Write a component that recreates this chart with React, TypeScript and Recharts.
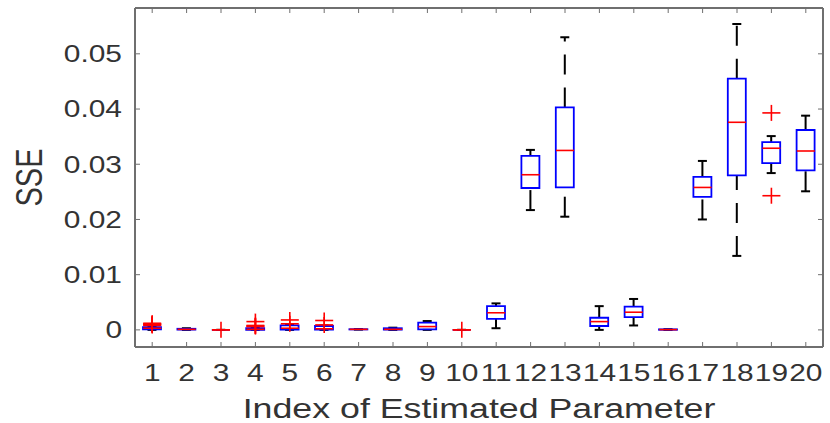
import React from "react";
import { ComposedChart, Bar, Scatter, XAxis, YAxis } from "recharts";

// Box statistics per estimated parameter (SSE)
const categories = [
  "1", "2", "3", "4", "5", "6", "7", "8", "9", "10",
  "11", "12", "13", "14", "15", "16", "17", "18", "19", "20",
];
const whiskerLow = [
  0, 0, 0, 0, 0, 0, 0.00005, 0, 0, 0,
  0.0003, 0.0217, 0.0205, 0, 0.0008, 0, 0.02, 0.0134, 0.0284, 0.0251,
];
const q1 = [
  0.0001, 0.00005, 0, 0, 0.00005, 0.00005, 0.00008, 0.00005, 0.0001, 0,
  0.002, 0.0257, 0.0258, 0.0007, 0.0023, 0.00002, 0.0241, 0.028, 0.0302, 0.0289,
];
const median = [
  0.0003, 0.0001, 0, 0.0001, 0.0003, 0.0002, 0.0001, 0.0001, 0.0006, 0,
  0.0031, 0.0281, 0.0325, 0.0015, 0.0032, 0.00005, 0.0258, 0.0376, 0.0329, 0.0324,
];
const q3 = [
  0.0005, 0.0002, 0, 0.0003, 0.0008, 0.0007, 0.00012, 0.0003, 0.0013, 0,
  0.0043, 0.0315, 0.0403, 0.0022, 0.0042, 0.0001, 0.0277, 0.0455, 0.034, 0.0362,
];
const whiskerHigh = [
  0.0007, 0.0003, 0, 0.0005, 0.0009, 0.0008, 0.00015, 0.0004, 0.0016, 0,
  0.0048, 0.0326, 0.053, 0.0043, 0.0056, 0.00012, 0.0306, 0.0554, 0.0351, 0.0388,
];
const outliers: number[][] = [
  [0.0008, 0.0009, 0.001, 0.0011, 0.0012],
  [],
  [0.00002],
  [0.0006, 0.0007, 0.0008, 0.0015],
  [0.0011, 0.0018],
  [0.0009, 0.0017],
  [],
  [],
  [],
  [0.00002],
  [], [], [], [], [], [], [], [],
  [0.0243, 0.0393],
  [],
];
const yTicks = [0, 0.01, 0.02, 0.03, 0.04, 0.05];

const OUTLIER_SLOTS = [0, 1, 2, 3, 4];

const rows = categories.map((name, i) => {
  const row: Record<string, any> = {
    name,
    lowW: [whiskerLow[i], q1[i]],
    highW: [q3[i], whiskerHigh[i]],
    box: [q1[i], q3[i]],
    median: median[i],
  };
  OUTLIER_SLOTS.forEach((k) => {
    row[`o${k}`] = outliers[i][k] ?? null;
  });
  return row;
});

const BLUE = "#0000ff";
const RED = "#ff0000";
const FRAME = "#6f6f6f";
const TEXT = "#333";
const FONT = "'Liberation Sans', Arial, sans-serif";
const STRETCH = 1.3;
const BOX_W = 18;

const BoxShape = (p: any) => {
  const top = Math.min(p.y, p.y + p.height);
  const h = Math.abs(p.height);
  return (
    <path
      d={`M${p.x},${top}h${p.width}v${h}h${-p.width}Z`}
      fill="none"
      stroke={BLUE}
      strokeWidth={1.8}
    />
  );
};

// whiskers are stroked bottom-up so the dash pattern starts at the lower end
const whisker = (upper: boolean) => (p: any) => {
  const cx = p.x + p.width / 2;
  const top = Math.min(p.y, p.y + p.height);
  const bottom = Math.max(p.y, p.y + p.height);
  const capY = upper ? top : bottom;
  return (
    <g stroke="#000" strokeWidth={2}>
      <line x1={cx} y1={bottom} x2={cx} y2={top} strokeDasharray="20 13" />
      <line x1={cx - 4.5} y1={capY} x2={cx + 4.5} y2={capY} />
    </g>
  );
};

const MedianShape = (p: any) => (
  <line x1={p.cx - BOX_W / 2} x2={p.cx + BOX_W / 2} y1={p.cy} y2={p.cy} stroke={RED} strokeWidth={1.6} />
);

const plus = (key: string) => (p: any) => {
  if (p.payload?.[key] == null || !Number.isFinite(p.cy)) return <g />;
  return (
    <g stroke={RED} strokeWidth={1.6}>
      <line x1={p.cx - 9} x2={p.cx + 9} y1={p.cy} y2={p.cy} />
      <line x1={p.cx} x2={p.cx} y1={p.cy - 8} y2={p.cy + 8} />
    </g>
  );
};

const BottomTick = (p: any) => (
  <g>
    <line x1={p.x} x2={p.x} y1={p.y} y2={p.y - 5} stroke={FRAME} />
    <text
      transform={`translate(${p.x},${p.y + 34}) scale(${STRETCH},1)`}
      textAnchor="middle"
      fontFamily={FONT}
      fontSize={23}
      fill={TEXT}
    >
      {p.payload.value}
    </text>
  </g>
);

const TopTick = (p: any) => (
  <line x1={p.x} x2={p.x} y1={p.y} y2={p.y + 5} stroke={FRAME} />
);

const LeftTick = (p: any) => (
  <g>
    <line x1={p.x} x2={p.x + 5} y1={p.y} y2={p.y} stroke={FRAME} />
    <text
      transform={`translate(${p.x - 13},${p.y}) scale(${STRETCH},1)`}
      textAnchor="end"
      dy="0.36em"
      fontFamily={FONT}
      fontSize={23}
      fill={TEXT}
    >
      {p.payload.value === 0 ? "0" : Number(p.payload.value).toFixed(2)}
    </text>
  </g>
);

const RightTick = (p: any) => (
  <line x1={p.x - 5} x2={p.x} y1={p.y} y2={p.y} stroke={FRAME} />
);

const XTitle = (p: any) => {
  const vb = p.viewBox ?? { x: 135, y: 347, width: 688 };
  return (
    <text
      transform={`translate(${vb.x + vb.width / 2},${vb.y + 71}) scale(${STRETCH},1)`}
      textAnchor="middle"
      fontFamily={FONT}
      fontSize={27.5}
      fill={TEXT}
    >
      Index of Estimated Parameter
    </text>
  );
};

const YTitle = (p: any) => {
  const vb = p.viewBox ?? { x: 0, y: 8, height: 339 };
  return (
    <text
      transform={`translate(${vb.x + 28.5},${vb.y + vb.height / 2}) scale(${STRETCH},1) rotate(-90)`}
      textAnchor="middle"
      dy="0.36em"
      fontFamily={FONT}
      fontSize={29}
      fill={TEXT}
    >
      SSE
    </text>
  );
};

const Y_DOMAIN: [number, number] = [-0.0031, 0.0583];

export default function App() {
  return (
    <div style={{ width: 830, height: 423, background: "#fff" }}>
      <style>{"body{margin:0}"}</style>
      <ComposedChart
        width={830}
        height={423}
        data={rows}
        margin={{ top: 0, right: 0, bottom: 0, left: 0 }}
        barGap={-BOX_W}
      >
        <XAxis
          dataKey="name"
          height={76}
          interval={0}
          tickSize={0}
          tickMargin={0}
          tickLine={false}
          axisLine={{ stroke: FRAME, strokeWidth: 2 }}
          tick={<BottomTick />}
          label={<XTitle />}
        />
        <XAxis
          xAxisId="top"
          dataKey="name"
          orientation="top"
          height={8}
          interval={0}
          tickSize={0}
          tickMargin={0}
          tickLine={false}
          axisLine={{ stroke: FRAME, strokeWidth: 2 }}
          tick={<TopTick />}
        />
        <YAxis
          type="number"
          width={135}
          domain={Y_DOMAIN}
          ticks={yTicks}
          interval={0}
          allowDataOverflow
          tickSize={0}
          tickMargin={0}
          tickLine={false}
          axisLine={{ stroke: FRAME, strokeWidth: 2 }}
          tick={<LeftTick />}
          label={<YTitle />}
        />
        <YAxis
          yAxisId="right"
          type="number"
          orientation="right"
          width={7}
          domain={Y_DOMAIN}
          ticks={yTicks}
          interval={0}
          allowDataOverflow
          tickSize={0}
          tickMargin={0}
          tickLine={false}
          axisLine={{ stroke: FRAME, strokeWidth: 2 }}
          tick={<RightTick />}
        />
        <Bar dataKey="lowW" barSize={BOX_W} shape={whisker(false)} isAnimationActive={false} />
        <Bar dataKey="highW" barSize={BOX_W} shape={whisker(true)} isAnimationActive={false} />
        <Bar dataKey="box" barSize={BOX_W} shape={BoxShape} isAnimationActive={false} />
        <Scatter dataKey="median" shape={MedianShape} isAnimationActive={false} />
        {OUTLIER_SLOTS.map((k) => (
          <Scatter
            key={k}
            dataKey={`o${k}`}
            shape={plus(`o${k}`)}
            isAnimationActive={false}
          />
        ))}
      </ComposedChart>
    </div>
  );
}
